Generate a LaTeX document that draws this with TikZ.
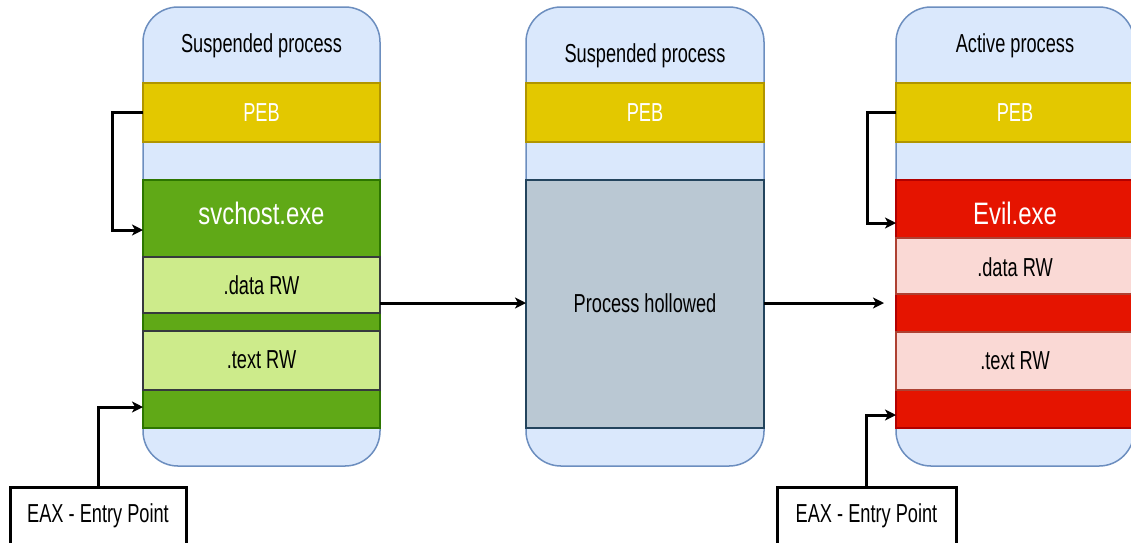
\documentclass[tikz,border=0pt]{standalone}
\usepackage{fontspec}
\usepackage{graphicx}
\setmainfont{Liberation Sans}
\usetikzlibrary{arrows.meta,positioning,calc}

\definecolor{contfill}{HTML}{DAE8FC}
\definecolor{contline}{HTML}{6C8EBF}
\definecolor{pebfill}{HTML}{E3C800}
\definecolor{pebline}{HTML}{B09500}
\definecolor{grnfill}{HTML}{60A917}
\definecolor{grnline}{HTML}{2D7600}
\definecolor{ltgfill}{HTML}{CDEB8B}
\definecolor{ltgline}{HTML}{36393D}
\definecolor{gryfill}{HTML}{BAC8D3}
\definecolor{gryline}{HTML}{23445D}
\definecolor{redfill}{HTML}{E51400}
\definecolor{redline}{HTML}{B20000}
\definecolor{pnkfill}{HTML}{FAD9D5}
\definecolor{pnkline}{HTML}{AE4132}

% narrow labels
\newcommand\condtext[1]{{\fontsize{26}{26}\selectfont\scalebox{0.70}[1]{#1}}}
\newcommand\bigtext[1]{{\fontsize{31}{31}\selectfont\scalebox{0.77}[1]{#1}}}

\tikzset{
  shell/.style={draw=contline, fill=contfill, line width=1.5pt, rounded corners=35pt,
    inner sep=0pt, outer sep=0pt},
  band/.style={draw, line width=2pt, inner sep=0pt, outer sep=0pt},
  pebbox/.style={band, draw=pebline, fill=pebfill},
  grnbox/.style={band, draw=grnline, fill=grnfill},
  ltgbox/.style={band, draw=ltgline, fill=ltgfill},
  grybox/.style={band, draw=gryline, fill=gryfill},
  redbox/.style={band, draw=redline, fill=redfill},
  pnkbox/.style={band, draw=pnkline, fill=pnkfill},
  txt/.style={inner sep=0pt, text=black},
  wtxt/.style={inner sep=0pt, text=white},
  entrybox/.style={draw=black, fill=white, line width=3pt, inner sep=0pt, outer sep=0pt},
  conn/.style={draw=black, line width=3pt,
    -{Stealth[length=11pt,width=11pt,inset=3pt]}},
}

\begin{document}
\begin{tikzpicture}[x=1pt,y=-1pt]
\useasboundingbox (0,0) rectangle (1131,542);
\clip (0,0) rectangle (1131,542);

% ---------- left: suspended svchost ----------
\node[shell, minimum width=237pt, minimum height=459pt] (c1) at (261.5,236.5) {};
\node[pebbox, minimum width=237pt, minimum height=59pt] (p1) at (261.5,112.5) {};
\node[grnbox, minimum width=237pt, minimum height=248pt] (g1) at (261.5,304) {};
\node[ltgbox, minimum width=237pt, minimum height=56pt] (d1) at (261.5,285) {};
\node[ltgbox, minimum width=237pt, minimum height=59pt] (t1) at (261.5,360.5) {};
\node[txt] (c1t) at (261.5,46) {\condtext{Suspended process}};
\node[wtxt] (p1t) at (261.5,113) {\condtext{PEB}};
\node[wtxt] (s1t) at (261.5,213) {\bigtext{svchost.exe}};
\node[txt] (d1t) at (261.5,285) {\condtext{.data RW}};
\node[txt] (t1t) at (261.5,360) {\condtext{.text RW}};

% ---------- middle: hollowed ----------
\node[shell, minimum width=238pt, minimum height=459pt] (c2) at (645,236.5) {};
\node[pebbox, minimum width=238pt, minimum height=59pt] (p2) at (645,112.5) {};
\node[grybox, minimum width=238pt, minimum height=248pt] (h2) at (645,304) {};
\node[txt] (c2t) at (645,56) {\condtext{Suspended process}};
\node[wtxt] (p2t) at (645,113) {\condtext{PEB}};
\node[txt] (h2t) at (645,303) {\condtext{Process hollowed}};

% ---------- right: active evil ----------
\node[shell, minimum width=238pt, minimum height=459pt] (c3) at (1015,236.5) {};
\node[pebbox, minimum width=238pt, minimum height=59pt] (p3) at (1015,112.5) {};
\node[redbox, minimum width=238pt, minimum height=248pt] (r3) at (1015,304) {};
\node[pnkbox, minimum width=238pt, minimum height=56pt] (d3) at (1015,266) {};
\node[pnkbox, minimum width=238pt, minimum height=58pt] (t3) at (1015,361) {};
\node[txt] (c3t) at (1015,46) {\condtext{Active process}};
\node[wtxt] (p3t) at (1015,113) {\condtext{PEB}};
\node[wtxt] (e3t) at (1015,213) {\bigtext{Evil.exe}};
\node[txt] (d3t) at (1015,267) {\condtext{.data RW}};
\node[txt] (t3t) at (1015,361) {\condtext{.text RW}};

% ---------- entry point boxes ----------
\node[entrybox, minimum width=176pt, minimum height=58pt] (e1) at (98,516) {};
\node[txt] (e1t) at (98,516) {\condtext{EAX - Entry Point}};
\node[entrybox, minimum width=179pt, minimum height=58pt] (e2) at (866.5,516) {};
\node[txt] (e2t) at (866.5,516) {\condtext{EAX - Entry Point}};

% ---------- connector ends ----------
\coordinate (s1in) at (143,230);
\coordinate (g1in) at (143,407);
\coordinate (r3in) at (896,223);
\coordinate (r3ep) at (896,415);
\coordinate (d1out) at (380,303);
\coordinate (h2in) at (526,303);
\coordinate (h2out) at (764,303);
\coordinate (r3arr) at (884,303);

% ---------- connectors ----------
\draw[conn] (p1.west) -- ++(-31,0) |- (s1in);
\draw[conn] (e1.north) |- (g1in);
\draw[conn] (p3.west) -- ++(-29,0) |- (r3in);
\draw[conn] (e2.north) |- (r3ep);
\draw[conn] (d1out) -- (h2in);
\draw[conn] (h2out) -- (r3arr);
\end{tikzpicture}
\end{document}
